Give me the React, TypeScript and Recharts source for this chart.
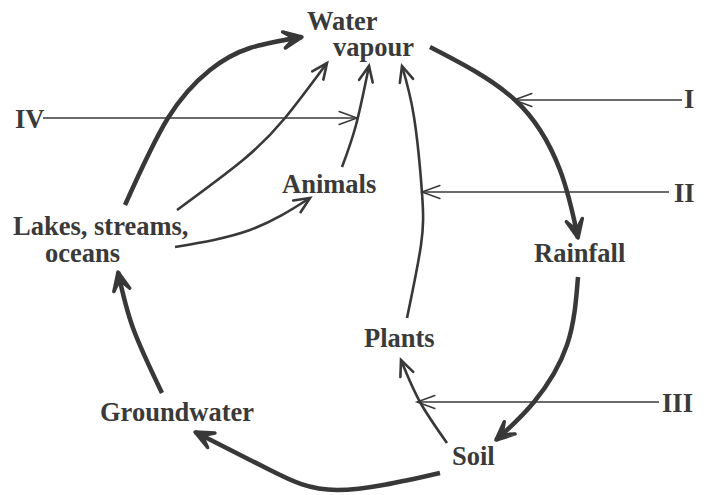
import React from 'react';
import { ComposedChart, Line, Scatter, XAxis, YAxis } from 'recharts';

// word labels: left edge x, baseline y
const labels = [
  { x: 307, y: 30, text: 'Water' },
  { x: 333, y: 56, text: 'vapour' },
  { x: 15, y: 128, text: 'IV' },
  { x: 684, y: 108, text: 'I' },
  { x: 282, y: 193, text: 'Animals' },
  { x: 674, y: 202, text: 'II' },
  { x: 13, y: 235, text: 'Lakes, streams,' },
  { x: 45, y: 262, text: 'oceans' },
  { x: 534, y: 262, text: 'Rainfall' },
  { x: 364, y: 347, text: 'Plants' },
  { x: 662, y: 412, text: 'III' },
  { x: 100, y: 421, text: 'Groundwater' },
  { x: 452, y: 465, text: 'Soil' },
];

// main cycle (thick arrows)
const vapourToRain = [{ x: 430, y: 47 }, { x: 515, y: 100 }, { x: 560, y: 170 }, { x: 578, y: 238 }];
const rainToSoil = [{ x: 578, y: 277 }, { x: 567, y: 345 }, { x: 534, y: 402 }, { x: 496, y: 440 }];
const soilToGround = [{ x: 440, y: 473 }, { x: 337, y: 490 }, { x: 270, y: 470 }, { x: 195, y: 432 }];
const groundToLakes = [{ x: 162, y: 393 }, { x: 133, y: 328 }, { x: 118, y: 272 }];
const lakesToVapour = [{ x: 125, y: 205 }, { x: 168, y: 118 }, { x: 210, y: 70 }, { x: 250, y: 48 }, { x: 302, y: 37 }];

// side paths (thin arrows)
const lakesToVapourThin = [{ x: 177, y: 210 }, { x: 243, y: 160 }, { x: 285, y: 118 }, { x: 327, y: 63 }];
const lakesToAnimals = [{ x: 175, y: 247 }, { x: 250, y: 230 }, { x: 310, y: 198 }];
const animalsToVapour = [{ x: 342, y: 167 }, { x: 356, y: 125 }, { x: 369, y: 66 }];
const plantsToVapour = [{ x: 407, y: 318 }, { x: 421, y: 245 }, { x: 422, y: 193 }, { x: 414, y: 117 }, { x: 402, y: 66 }];
const soilToPlants = [{ x: 447, y: 443 }, { x: 420, y: 402 }, { x: 401, y: 360 }];

// pointer lines
const pointerI = [{ x: 682, y: 100 }, { x: 514, y: 100 }];
const pointerII = [{ x: 669, y: 192 }, { x: 422, y: 192 }];
const pointerIII = [{ x: 659, y: 402 }, { x: 417, y: 402 }];
const pointerIV = [{ x: 43, y: 118 }, { x: 357, y: 118 }];

const INK = '#383838';

// same control points as d3 curveNatural, used for the end tangent
function endTangent(v: number[]) {
  const n = v.length - 1;
  if (n < 2) return v[n] - v[0];
  const a = new Array(n), b = new Array(n), r = new Array(n);
  a[0] = 0; b[0] = 2; r[0] = v[0] + 2 * v[1];
  for (let i = 1; i < n - 1; ++i) { a[i] = 1; b[i] = 4; r[i] = 4 * v[i] + 2 * v[i + 1]; }
  a[n - 1] = 2; b[n - 1] = 7; r[n - 1] = 8 * v[n - 1] + v[n];
  for (let i = 1; i < n; ++i) { const m = a[i] / b[i - 1]; b[i] -= m; r[i] -= m * r[i - 1]; }
  a[n - 1] = r[n - 1] / b[n - 1];
  for (let i = n - 2; i >= 0; --i) a[i] = (r[i] - a[i + 1]) / b[i];
  const last = (v[n] + a[n - 1]) / 2;
  return v[n] - last;
}

const makeHead = (len: number, width: number, half = 24, solid = false) => (props: any) => {
  const { index, points, cx, cy } = props;
  if (!points || index !== points.length - 1) return <g key={`h${index}`} />;
  const dx = endTangent(points.map((p: any) => p.x));
  const dy = endTangent(points.map((p: any) => p.y));
  const ang = Math.atan2(dy, dx);
  const h = (half * Math.PI) / 180;
  const x1 = cx - len * Math.cos(ang - h);
  const y1 = cy - len * Math.sin(ang - h);
  const x2 = cx - len * Math.cos(ang + h);
  const y2 = cy - len * Math.sin(ang + h);
  if (solid) {
    const nx = cx - len * 0.4 * Math.cos(ang);
    const ny = cy - len * 0.4 * Math.sin(ang);
    return (
      <polygon
        key={`h${index}`}
        points={`${x1},${y1} ${cx},${cy} ${x2},${y2} ${nx},${ny}`}
        fill={INK}
        stroke={INK}
        strokeWidth={3.5}
        strokeLinejoin="round"
      />
    );
  }
  return (
    <polyline
      key={`h${index}`}
      points={`${x1},${y1} ${cx},${cy} ${x2},${y2}`}
      fill="none"
      stroke={INK}
      strokeWidth={width}
      strokeLinejoin="miter"
      strokeLinecap="round"
    />
  );
};

const thick = [vapourToRain, rainToSoil, soilToGround, groundToLakes, lakesToVapour];
const thin = [lakesToVapourThin, lakesToAnimals, animalsToVapour, plantsToVapour, soilToPlants];
const pointers = [pointerI, pointerII, pointerIII, pointerIV];

const renderLabel = (props: any) => (
  <text
    x={props.cx}
    y={props.cy}
    fontFamily="'Liberation Serif', 'Times New Roman', serif"
    fontWeight="bold"
    fontSize={26.5}
    fill="#3a3a3a"
  >
    {props.payload.text}
  </text>
);

export default function App() {
  return (
    <div style={{ position: 'absolute', left: 0, top: 0, background: '#fff' }}>
      <ComposedChart width={708} height={495} margin={{ top: 0, right: 0, bottom: 0, left: 0 }}>
        <XAxis type="number" dataKey="x" domain={[0, 708]} hide allowDataOverflow />
        <YAxis type="number" dataKey="y" domain={[0, 495]} reversed hide allowDataOverflow />
        {thick.map((d, i) => (
          <Line key={`t${i}`} data={d} dataKey="y" type="natural" stroke={INK} strokeWidth={4.5}
            dot={makeHead(20, 4.5, 24, true)} activeDot={false} legendType="none" isAnimationActive={false} />
        ))}
        {thin.map((d, i) => (
          <Line key={`n${i}`} data={d} dataKey="y" type="natural" stroke={INK} strokeWidth={2.6}
            dot={makeHead(17, 2.6, 24)} activeDot={false} legendType="none" isAnimationActive={false} />
        ))}
        {pointers.map((d, i) => (
          <Line key={`p${i}`} data={d} dataKey="y" type="linear" stroke={INK} strokeWidth={1.5}
            dot={makeHead(19, 1.5, 20)} activeDot={false} legendType="none" isAnimationActive={false} />
        ))}
        <Scatter data={labels} dataKey="y" shape={renderLabel} legendType="none" isAnimationActive={false} />
      </ComposedChart>
    </div>
  );
}
